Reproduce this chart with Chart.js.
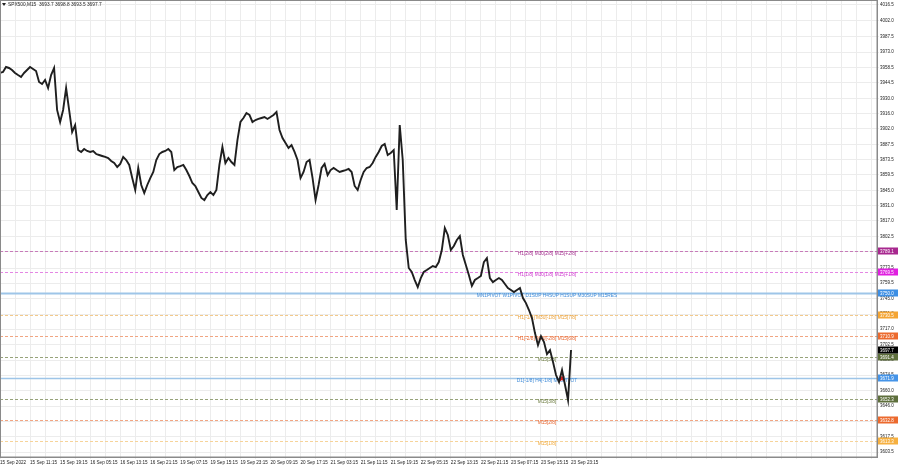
<!DOCTYPE html>
<html>
<head>
<meta charset="utf-8">
<script src="https://cdn.jsdelivr.net/npm/chart.js"></script>
<style>
  html,body{margin:0;padding:0;background:#fff;}
  #wrap{width:900px;height:468px;position:relative;}
</style>
</head>
<body>
<div id="wrap"><canvas id="chart" width="900" height="468"></canvas></div>
<script>
// header of the chart window
const symbol = 'SPX500,M15';
const lastBar = ['3693.7', '3698.8', '3693.5', '3697.7'];
const lastPrice = 3697.7;

// time axis labels, one every 10 points
const timeLabels = ['15 Sep 2022','15 Sep 11:15','15 Sep 19:15','16 Sep 05:15','16 Sep 13:15','16 Sep 21:15',
  '19 Sep 07:15','19 Sep 15:15','19 Sep 23:15','20 Sep 09:15','20 Sep 17:15','21 Sep 03:15','21 Sep 11:15',
  '21 Sep 19:15','22 Sep 05:15','22 Sep 13:15','22 Sep 21:15','23 Sep 07:15','23 Sep 15:15','23 Sep 23:15'];

// price scale ticks
const yTicks = [4016.5,4002.0,3987.5,3973.0,3958.5,3944.5,3930.0,3916.0,3902.0,3887.5,3873.5,3859.5,3845.0,
  3831.0,3817.0,3802.5,3788.5,3773.5,3759.5,3745.0,3731.0,3717.0,3702.5,3688.5,3674.5,3660.0,3646.0,3631.5,
  3617.5,3603.5];
const yMin = 3598.9, yMax = 4021.1;

// closing prices
const closes = [
  3953.7,3954.6,3959.2,3958.3,3956.4,3953.7,3951.8,3950.0,3953.7,3956.4,
  3959.2,3957.4,3955.5,3945.4,3943.5,3947.2,3939.8,3951.8,3958.3,3919.5,
  3908.4,3919.5,3939.8,3919.5,3899.1,3905.6,3882.5,3880.7,3883.4,3881.6,
  3880.7,3881.6,3878.8,3877.9,3877.0,3876.1,3875.1,3872.4,3870.5,3866.8,
  3869.6,3876.1,3873.3,3868.7,3856.6,3845.6,3865.9,3850.2,3842.8,3850.2,
  3856.6,3862.2,3873.3,3878.8,3880.7,3881.6,3883.4,3880.7,3864.0,3866.8,
  3867.7,3868.7,3864.0,3858.5,3852.0,3849.3,3843.7,3838.2,3836.3,3840.9,
  3843.7,3840.9,3845.6,3868.7,3885.3,3870.5,3875.1,3871.4,3868.7,3891.7,
  3908.4,3912.1,3916.7,3914.9,3908.4,3910.2,3911.2,3912.1,3913.0,3911.2,
  3913.0,3914.9,3917.6,3901.0,3893.6,3889.0,3884.4,3887.1,3880.7,3873.3,
  3856.6,3862.2,3871.4,3873.3,3856.6,3836.3,3850.2,3865.9,3869.6,3859.4,
  3864.0,3865.9,3864.0,3862.2,3863.1,3864.0,3865.0,3862.2,3849.3,3845.6,
  3854.8,3862.2,3865.9,3866.8,3870.5,3876.1,3880.7,3886.2,3888.1,3877.9,
  3879.8,3882.5,3827.1,3905.6,3873.3,3799.4,3773.5,3769.8,3762.4,3755.9,
  3764.2,3769.8,3771.6,3773.5,3775.3,3774.4,3779.0,3790.1,3810.4,3804.0,
  3790.1,3793.8,3799.4,3803.0,3785.5,3776.3,3767.0,3756.9,3762.4,3764.2,
  3766.1,3779.0,3782.7,3764.2,3760.5,3762.4,3764.2,3762.4,3758.7,3755.0,
  3753.2,3751.3,3753.2,3755.0,3745.8,3741.1,3734.7,3727.3,3713.4,3702.3,
  3710.6,3705.1,3694.0,3697.7,3686.6,3674.6,3668.2,3679.2,3665.4,3651.5,
  3697.7];

// murrey levels and their captions
const levelValues = [3789.1,3769.5,3750.0,3730.5,3710.9,3691.4,3671.9,3652.3,3632.8,3613.3];
const levelTexts = ['H1[2/8] M30[2/8] M15[+2/8]','H1[1/8] M30[1/8] M15[+1/8]',
  'MN1PIVOT W1PIVOT D1SUP H4SUP H1SUP M30SUP M15RES','H1[-1/8] M30[-1/8] M15[7/8]',
  'H1[-2/8] M30[-2/8] M15[6/8]','M15[5/8]','D1[-1/8] H4[-1/8] M15PIVOT','M15[3/8]','M15[2/8]','M15[1/8]'];

// red marker on the last swing
const markIndex = 187, markValue = 3671.5;

// styles for the levels (line, caption, axis box)
const purple = {line:'#c77bb9', text:'#a3308e', box:'#a8288f', w:1, dash:[3,2]};
const magenta = {line:'#e486e4', text:'#cf3bcf', box:'#e020e0', w:1, dash:[3,2]};
const blue = {line:'#9ec5e8', text:'#3f8bd8', box:'#3d8fe4', w:2, dash:[]};
const blue2 = {line:'#9ec5e8', text:'#3f8bd8', box:'#4594e8', w:1.5, dash:[]};
const orange = {line:'#f3c98a', text:'#eba13a', box:'#f4a534', w:1, dash:[3,2]};
const orangeRed = {line:'#f1a582', text:'#e8652e', box:'#ec6a2e', w:1, dash:[3,2]};
const olive = {line:'#97a37a', text:'#6b7a3e', box:'#5e6f3c', w:1, dash:[3,2]};
const orangeLt = {line:'#f6d39a', text:'#f0a838', box:'#f6b040', w:1, dash:[3,2]};
const levelStyles = [purple, magenta, blue, orange, orangeRed, olive, blue2, olive, orangeRed, orangeLt];

const FONT = '"Liberation Sans", Arial, sans-serif';

const overlay = {
  id: 'overlay',
  beforeDatasetsDraw(chart){
    const {ctx, chartArea:a, scales:{x, y}} = chart;
    ctx.save();
    const cx = x.getPixelForValue(182);
    levelValues.forEach((v, i) => {
      const st = levelStyles[i];
      const py = Math.round(y.getPixelForValue(v)) + 0.5;
      ctx.strokeStyle = st.line; ctx.lineWidth = st.w; ctx.setLineDash(st.dash);
      ctx.beginPath(); ctx.moveTo(a.left, py); ctx.lineTo(a.right, py); ctx.stroke();
      ctx.setLineDash([]);
      ctx.fillStyle = st.text;
      ctx.font = '4.8px ' + FONT;
      ctx.textAlign = 'center'; ctx.textBaseline = 'middle';
      ctx.fillText(levelTexts[i], cx, py + 2.5);
    });
    ctx.restore();
  },
  afterDraw(chart){
    const {ctx, chartArea:a, scales:{y}} = chart;
    ctx.save();
    // frame
    ctx.strokeStyle = '#8a8a8a'; ctx.lineWidth = 1;
    ctx.strokeRect(0.5, 0.5, a.right - 0.5, a.bottom - 0.5);
    // axis boxes
    ctx.font = '4.5px ' + FONT; ctx.textAlign = 'left'; ctx.textBaseline = 'middle';
    const box = (v, bg) => {
      const py = Math.round(y.getPixelForValue(v));
      ctx.fillStyle = bg; ctx.fillRect(a.right + 1, py - 3.5, 20, 7);
      ctx.fillStyle = '#fff'; ctx.fillText(v.toFixed(1), a.right + 3, py + 0.5);
    };
    levelValues.forEach((v, i) => box(v, levelStyles[i].box));
    box(lastPrice, '#000');
    // header
    ctx.fillStyle = '#222';
    ctx.beginPath(); ctx.moveTo(2, 3); ctx.lineTo(6, 3); ctx.lineTo(4, 6); ctx.closePath(); ctx.fill();
    ctx.font = '4.8px ' + FONT; ctx.textBaseline = 'middle';
    ctx.fillText(symbol + '  ' + lastBar.join(' '), 8, 5);
    ctx.restore();
  }
};

new Chart(document.getElementById('chart'), {
  type: 'line',
  data: {
    datasets: [
      {
        data: closes.map((v, i) => ({x: i, y: v})),
        borderColor: '#1f1f1f', borderWidth: 1.9, pointRadius: 0, tension: 0
      },
      {
        data: [{x: markIndex, y: markValue}],
        showLine: false, pointStyle: 'crossRot', pointRadius: 3,
        borderColor: '#e02020', borderWidth: 2
      }
    ]
  },
  options: {
    responsive: false, animation: false, devicePixelRatio: 1,
    layout: {padding: 0, autoPadding: false},
    plugins: {legend: {display: false}, tooltip: {enabled: false}},
    scales: {
      x: {
        type: 'linear', min: 0, max: 291.8,
        afterBuildTicks: s => { const t = []; for (let v = 0; v <= 290; v += 5) t.push({value: v}); s.ticks = t; },
        afterFit: s => { s.height = 11; s.paddingLeft = 0; s.paddingRight = 0; },
        grid: {color: '#ececec', tickLength: 2, drawTicks: true},
        border: {color: '#8a8a8a'},
        ticks: {
          autoSkip: false, maxRotation: 0, align: 'start', padding: 1,
          color: '#222', font: {size: 4.6, family: FONT},
          callback: v => (v % 10 === 0 && timeLabels[v / 10]) ? timeLabels[v / 10] : ''
        }
      },
      y: {
        type: 'linear', position: 'right', min: yMin, max: yMax,
        afterBuildTicks: s => { s.ticks = yTicks.map(v => ({value: v})); },
        afterFit: s => { s.width = 23; s.paddingTop = 0; s.paddingBottom = 0; },
        grid: {color: '#ececec', tickLength: 2},
        border: {color: '#8a8a8a'},
        ticks: {
          padding: 1, color: '#222', font: {size: 4.5, family: FONT},
          callback: v => Number(v).toFixed(1)
        }
      }
    }
  },
  plugins: [overlay]
});
</script>
</body>
</html>
